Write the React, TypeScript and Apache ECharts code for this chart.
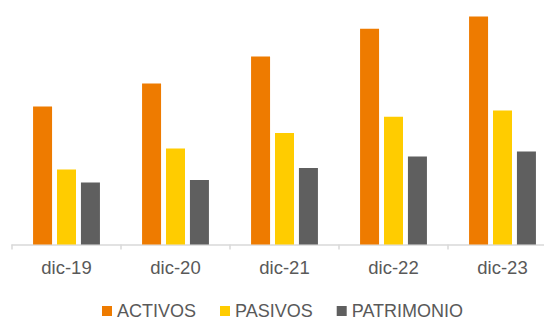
import React, { useEffect, useRef } from "react";
import * as echarts from "echarts";

const categories = ["dic-19", "dic-20", "dic-21", "dic-22", "dic-23"];
const activos = [138, 161, 188, 215.7, 228];
const pasivos = [75, 96, 111.5, 127.7, 134];
const patrimonio = [62, 64.5, 76.5, 88, 93];

const seriesNames = ["ACTIVOS", "PASIVOS", "PATRIMONIO"];
const colors = ["#EE7B00", "#FFCC00", "#5F5F5F"];

export default function App() {
  const ref = useRef<HTMLDivElement>(null);

  useEffect(() => {
    if (!ref.current) return;
    const chart = echarts.init(ref.current, null, { renderer: "svg" });
    const font = "'Liberation Sans', Arial, sans-serif";
    const data = [activos, pasivos, patrimonio];
    chart.setOption({
      animation: false,
      color: colors,
      grid: { left: 12, right: 3, top: 0, bottom: 75.5, containLabel: false },
      legend: {
        data: seriesNames,
        left: 102,
        top: 302,
        padding: 0,
        itemWidth: 10,
        itemHeight: 10,
        itemGap: 24,
        icon: "rect",
        textStyle: { color: "#595959", fontSize: 18, fontFamily: font },
      },
      xAxis: {
        type: "category",
        data: categories,
        axisLine: { lineStyle: { color: "#D9D9D9", width: 1.5 } },
        axisTick: { show: true, length: 5, lineStyle: { color: "#D9D9D9", width: 1.5 } },
        axisLabel: { color: "#595959", fontSize: 18.5, fontFamily: font, margin: 13 },
      },
      yAxis: {
        type: "value",
        min: 0,
        max: 244.5,
        show: false,
        splitLine: { show: false },
      },
      series: seriesNames.map((name, i) => ({
        name,
        type: "bar",
        data: data[i],
        barWidth: 19,
        barGap: "26%",
        itemStyle: { color: colors[i] },
      })),
    });
    return () => chart.dispose();
  }, []);

  // The chart canvas is a little wider than the visible frame, so the last
  // category runs off the right edge.
  return (
    <div
      style={{
        position: "absolute",
        left: 0,
        top: 0,
        width: 544,
        height: 320,
        overflow: "hidden",
      }}
    >
      <div ref={ref} style={{ width: 560, height: 320 }} />
    </div>
  );
}
